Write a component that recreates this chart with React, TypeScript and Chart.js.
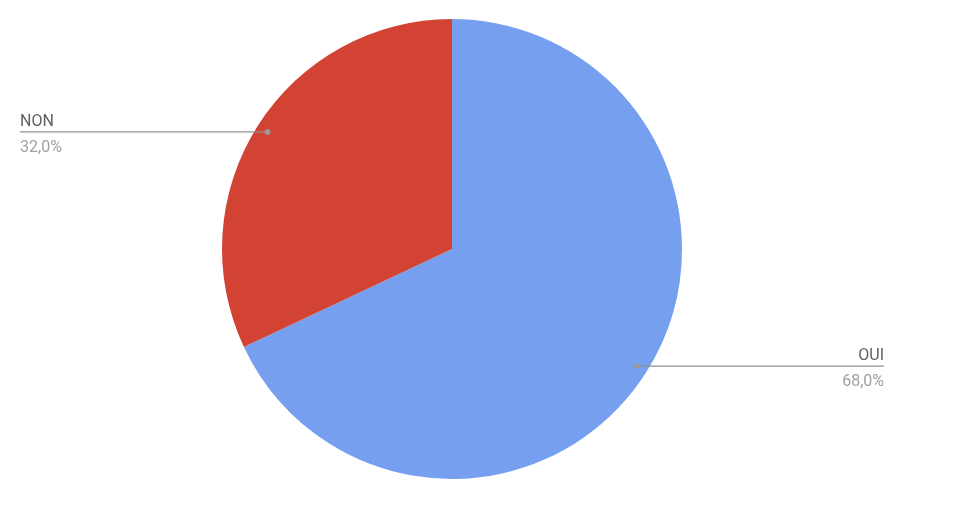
import { useEffect, useRef } from "react";
import { Chart, registerables } from "chart.js";

Chart.register(...registerables);

const labels = ["OUI", "NON"];
const values = [68, 32];
const colors = ["#769ff0", "#d24334"];

const calloutPlugin = {
  id: "callouts",
  afterDatasetsDraw(chart: Chart) {
    const { ctx, chartArea } = chart;
    const meta = chart.getDatasetMeta(0);
    const total = values.reduce((a, b) => a + b, 0);
    meta.data.forEach((el: any, i: number) => {
      const mid = (el.startAngle + el.endAngle) / 2;
      const r = el.outerRadius * 0.95;
      const px = el.x + Math.cos(mid) * r;
      const py = el.y + Math.sin(mid) * r;
      const right = Math.cos(mid) >= 0;
      const endX = right ? chartArea.right + 202 : chartArea.left - 202;
      ctx.save();
      ctx.strokeStyle = "#8f8f8f";
      ctx.lineWidth = 1.3;
      ctx.beginPath();
      ctx.moveTo(px, py);
      ctx.lineTo(endX, py);
      ctx.stroke();
      ctx.fillStyle = "#9a9a9a";
      ctx.beginPath();
      ctx.arc(px, py, 2.8, 0, Math.PI * 2);
      ctx.fill();
      ctx.font = "16px Roboto";
      ctx.textAlign = right ? "right" : "left";
      ctx.textBaseline = "alphabetic";
      ctx.fillStyle = "#5f5f5f";
      ctx.fillText(labels[i], endX, py - 6);
      ctx.fillStyle = "#a0a0a0";
      const pct = ((values[i] / total) * 100).toFixed(1).replace(".", ",") + "%";
      ctx.fillText(pct, endX, py + 20);
      ctx.restore();
    });
  },
};

export default function App() {
  const canvasRef = useRef<HTMLCanvasElement | null>(null);
  const chartRef = useRef<Chart | null>(null);

  useEffect(() => {
    document.body.style.margin = "0";
    if (!canvasRef.current) return;
    chartRef.current?.destroy();
    chartRef.current = new Chart(canvasRef.current, {
      type: "pie",
      data: {
        labels,
        datasets: [
          {
            data: values,
            backgroundColor: colors,
            borderWidth: 0,
          },
        ],
      },
      options: {
        responsive: false,
        animation: false,
        layout: { padding: { left: 222, right: 282, top: 19, bottom: 28 } },
        plugins: {
          legend: { display: false },
          tooltip: { enabled: false },
        },
      },
      plugins: [calloutPlugin],
    });
    return () => {
      chartRef.current?.destroy();
      chartRef.current = null;
    };
  }, []);

  return (
    <div style={{ width: 964, height: 507, background: "#fff" }}>
      <canvas ref={canvasRef} width={964} height={507} />
    </div>
  );
}
